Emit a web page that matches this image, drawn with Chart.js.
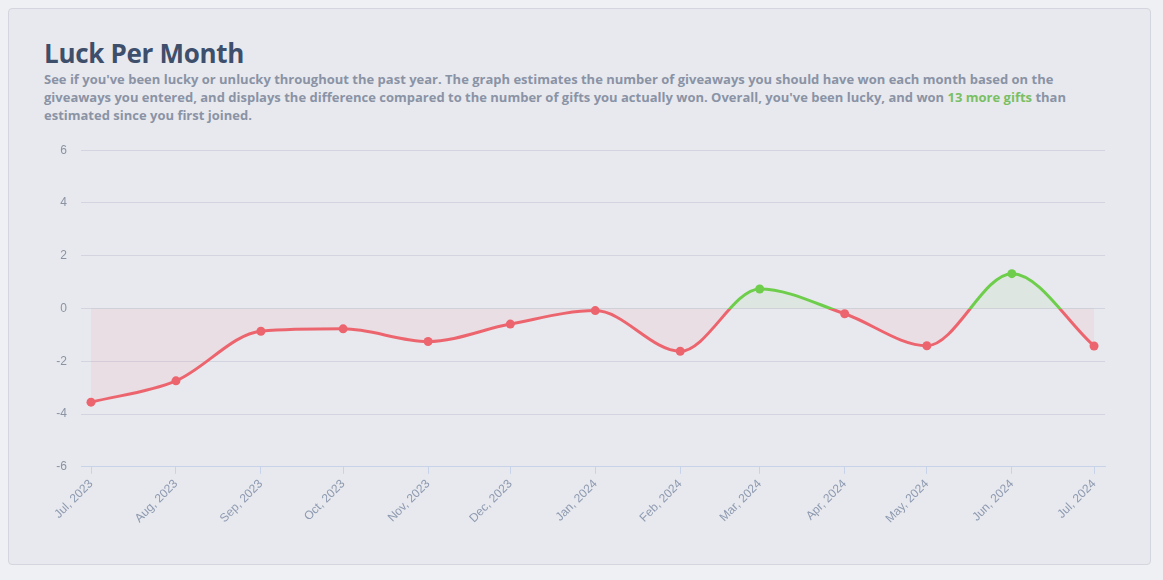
<!DOCTYPE html>
<html>
<head>
<meta charset="utf-8">
<script src="https://cdn.jsdelivr.net/npm/chart.js@4.4.1/dist/chart.umd.min.js"></script>
<style>
  html, body { margin: 0; padding: 0; background: #eff0f4; }
  .card {
    position: absolute; left: 8px; top: 8px; width: 1141px; height: 555px;
    background: #e8e9ee; border: 1px solid #d3d6de; border-radius: 4px;
  }
  h2 {
    position: absolute; left: 35px; top: 26px; margin: 0;
    font: 700 26px "Open Sans", sans-serif; color: #3e4f6c; letter-spacing: -0.3px;
  }
  p.desc {
    position: absolute; left: 35px; top: 61px; width: 1030px; margin: 0;
    font: 700 13px/18px "Open Sans", sans-serif; color: #8a93a5;
  }
  p.desc span { color: #79bf64; }
  .wrap { position: absolute; left: 36px; top: 120px; width: 1080px; height: 400px; }
</style>
</head>
<body>
<div class="card">
  <h2>Luck Per Month</h2>
  <p class="desc">See if you've been lucky or unlucky throughout the past year. The graph estimates the number of giveaways you should have won each month based on the giveaways you entered, and displays the difference compared to the number of gifts you actually won. Overall, you've been lucky, and won <span>13 more gifts</span> than estimated since you first joined.</p>
  <div class="wrap"><canvas id="luckChart"></canvas></div>
</div>
<script>
// datos del gráfico
const monthLabels = ['Jul, 2023', 'Aug, 2023', 'Sep, 2023', 'Oct, 2023', 'Nov, 2023', 'Dec, 2023',
  'Jan, 2024', 'Feb, 2024', 'Mar, 2024', 'Apr, 2024', 'May, 2024', 'Jun, 2024', 'Jul, 2024'];
const monthDates = ['2023-07-01', '2023-08-01', '2023-09-01', '2023-10-01', '2023-11-01', '2023-12-01',
  '2024-01-01', '2024-02-01', '2024-03-01', '2024-04-01', '2024-05-01', '2024-06-01', '2024-07-01'];
const luckValues = [-3.55, -2.74, -0.86, -0.77, -1.25, -0.59, -0.08, -1.62, 0.74, -0.2, -1.41, 1.32, -1.42];
const yTicks = [-6, -4, -2, 0, 2, 4, 6];

const RED = 'rgb(236, 101, 110)';
const GREEN = 'rgb(110, 206, 76)';

document.addEventListener('DOMContentLoaded', () => {
    const ctx = document.getElementById('luckChart').getContext('2d');

    // dias desde el primer mes, para que el espacio siga el largo de cada mes
    const start = Date.parse(monthDates[0]);
    const dayPos = monthDates.map(d => (Date.parse(d) - start) / 86400000);
    const points = dayPos.map((x, i) => ({ x: x, y: luckValues[i] }));

    // degradado con corte en cero: verde arriba, rojo abajo
    function splitColor(context) {
        const chart = context.chart;
        const area = chart.chartArea;
        if (!area) return RED;
        const zero = chart.scales.y.getPixelForValue(0);
        const stop = Math.min(1, Math.max(0, (zero - area.top) / (area.bottom - area.top)));
        const g = chart.ctx.createLinearGradient(0, area.top, 0, area.bottom);
        g.addColorStop(0, GREEN);
        g.addColorStop(stop, GREEN);
        g.addColorStop(stop, RED);
        g.addColorStop(1, RED);
        return g;
    }

    new Chart(ctx, {
        type: 'line',
        data: {
            datasets: [{
                data: points,
                borderColor: splitColor,
                borderWidth: 3,
                cubicInterpolationMode: 'monotone',
                pointRadius: 4.5,
                pointBorderWidth: 0,
                pointBackgroundColor: c => (c.raw && c.raw.y >= 0 ? GREEN : RED),
                fill: { target: 'origin', above: 'rgba(110, 206, 76, 0.08)', below: 'rgba(236, 101, 110, 0.08)' }
            }]
        },
        options: {
            responsive: true,
            maintainAspectRatio: false,
            animation: false,
            layout: { padding: { top: 8, right: 20 } },
            plugins: { legend: { display: false }, tooltip: { enabled: false } },
            scales: {
                x: {
                    type: 'linear',
                    min: -3.65,
                    max: 370,
                    afterBuildTicks: axis => { axis.ticks = dayPos.map(v => ({ value: v })); },
                    ticks: {
                        autoSkip: false,
                        maxRotation: 45,
                        minRotation: 45,
                        color: '#8d9ab0',
                        font: { family: 'Liberation Sans', size: 12 },
                        callback: (value, index) => monthLabels[index]
                    },
                    grid: { drawOnChartArea: false, color: '#c6d3e8', tickLength: 7 },
                    border: { color: '#c6d3e8' }
                },
                y: {
                    min: -6,
                    max: 6,
                    afterBuildTicks: axis => { axis.ticks = yTicks.map(v => ({ value: v })); },
                    afterFit: axis => { axis.width = 36; },
                    ticks: { color: '#8a93a3', padding: 14, font: { family: 'Liberation Sans', size: 12 } },
                    grid: { color: '#d2d5df', drawTicks: false },
                    border: { display: false }
                }
            }
        }
    });
});
</script>
</body>
</html>
